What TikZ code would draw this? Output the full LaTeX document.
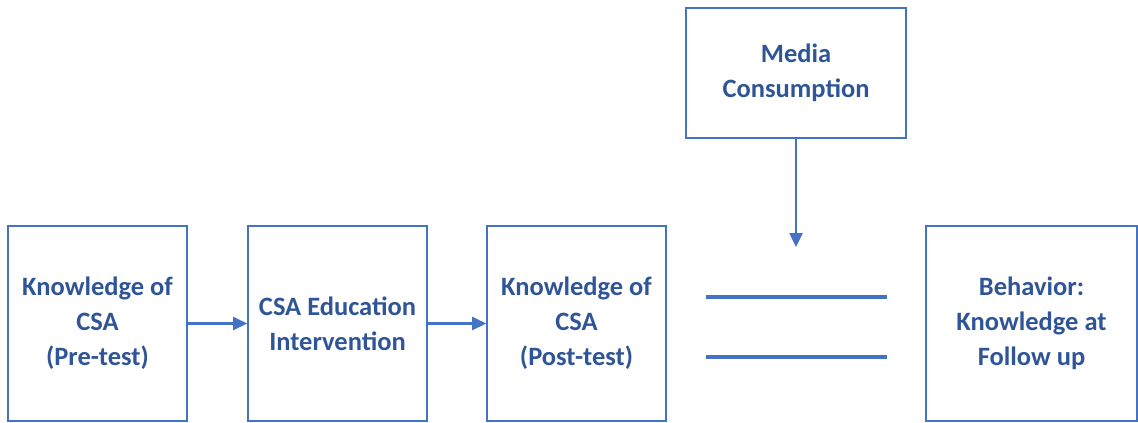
\documentclass[tikz,border=0pt]{standalone}
\usepackage{fontspec}
\setmainfont{Carlito}
\usetikzlibrary{arrows.meta}
\definecolor{boxline}{HTML}{4472C4}
\definecolor{boxtext}{HTML}{2F5597}
\begin{document}
\begin{tikzpicture}[x=1pt,y=-1pt,>={Triangle[length=14pt,width=13pt]},
	block/.style={draw=boxline, line width=1.6pt, minimum height=195pt, align=center, text=boxtext, font=\fontsize{26.5}{35}\selectfont\bfseries, inner sep=0pt}]
		\useasboundingbox (0,0) rectangle (1138,423);
		
		\node[block, minimum width=179pt] (pre) at (97.5,323.5) {Knowledge of\\CSA\\(Pre-test)};
		\node[block, minimum width=179pt] (edu) at (337.5,323.5) {CSA Education\\Intervention};
		\node[block, minimum width=179pt] (post) at (576.5,323.5) {Knowledge of\\CSA\\(Post-test)};
		\node[block, minimum width=211pt] (beh) at (1031.5,323.5) {Behavior:\\Knowledge at\\Follow up};
		\node[block, minimum width=220pt, minimum height=130pt] (media) at (796,73) {Media\\Consumption};
		
		\coordinate (tip) at (796,247);
		\coordinate (a1) at (706,297);
		\coordinate (b1) at (887,297);
		\coordinate (a2) at (706,357);
		\coordinate (b2) at (887,357);
		
		\draw[->, boxline, line width=2.5pt] (pre) -- (edu);
		\draw[->, boxline, line width=2.5pt] (edu) -- (post);
		\draw[->, boxline, line width=2.5pt] (media) -- (tip);
		\draw[boxline, line width=3.5pt] (a1) -- (b1);
		\draw[boxline, line width=3.5pt] (a2) -- (b2);
	\end{tikzpicture}
\end{document}
